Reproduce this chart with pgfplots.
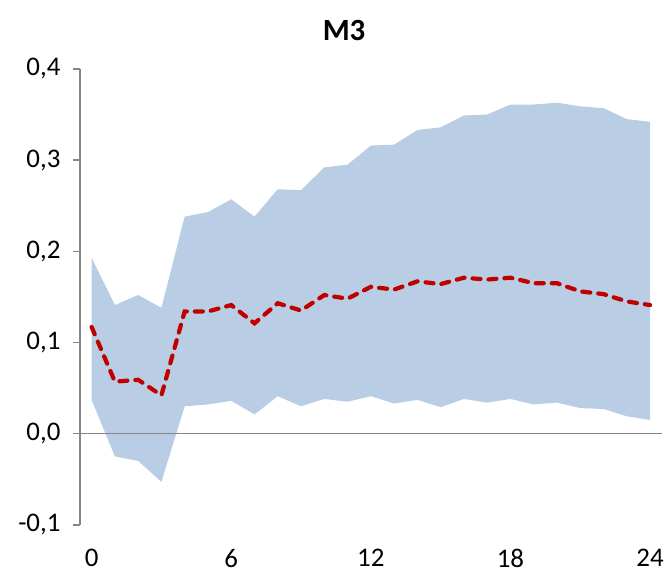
\documentclass[border=0pt]{standalone}
\usepackage{fontspec}
\setmainfont{Carlito}
\usepackage{pgfplots}
\pgfplotsset{compat=1.18}
\usepgfplotslibrary{fillbetween}
\definecolor{band}{HTML}{B9CDE5}
\definecolor{med}{HTML}{C00000}
\definecolor{axg}{HTML}{868686}
\begin{document}
\begin{tikzpicture}
\begin{axis}[
  name=ax,
  scale only axis,
  width=582bp, height=456bp,
  xmin=-0.5, xmax=24.5,
  ymin=-0.1, ymax=0.4,
  xtick={0,6,12,18,24},
  ytick={-0.1,0,0.1,0.2,0.3,0.4},
  axis x line*=bottom, axis y line*=left,
  x axis line style={draw=none},
  y axis line style={draw=axg, line width=1.5bp},
  xtick style={draw=none},
  ytick style={draw=axg, line width=1.5bp},
  tick align=outside,
  major tick length=7bp,
  /pgf/number format/assume math mode=true,
  yticklabel style={/pgf/number format/.cd, use comma, fixed, fixed zerofill, precision=1},
  tick label style={font=\fontsize{27}{30}\selectfont, text=black},
  yticklabel shift=9bp,
  xticklabel shift=14bp,
  clip=false,
]
\addplot[name path=up, draw=none] coordinates {
(0,0.193) (1,0.141) (2,0.152) (3,0.138) (4,0.238) (5,0.243) (6,0.257) (7,0.238) (8,0.268) (9,0.267) (10,0.292) (11,0.295) (12,0.316) (13,0.317) (14,0.333) (15,0.336) (16,0.349) (17,0.350) (18,0.361) (19,0.361) (20,0.363) (21,0.359) (22,0.357) (23,0.345) (24,0.342)};
\addplot[name path=lo, draw=none] coordinates {
(0,0.037) (1,-0.025) (2,-0.030) (3,-0.053) (4,0.030) (5,0.032) (6,0.036) (7,0.021) (8,0.041) (9,0.030) (10,0.038) (11,0.035) (12,0.041) (13,0.033) (14,0.037) (15,0.029) (16,0.038) (17,0.034) (18,0.038) (19,0.032) (20,0.034) (21,0.028) (22,0.027) (23,0.019) (24,0.015)};
\addplot[band, draw=none] fill between[of=up and lo];
\addplot[draw=axg, line width=1.5bp] coordinates {(-0.5,0) (24.5,0)};
\addplot[med, line width=4.2bp, line cap=round, dash pattern=on 8bp off 8bp] coordinates {
(0,0.117) (1,0.057) (2,0.059) (3,0.042) (4,0.134) (5,0.134) (6,0.141) (7,0.121) (8,0.143) (9,0.135) (10,0.152) (11,0.148) (12,0.161) (13,0.158) (14,0.167) (15,0.164) (16,0.171) (17,0.169) (18,0.171) (19,0.165) (20,0.165) (21,0.156) (22,0.153) (23,0.145) (24,0.141)};
\node[font=\bfseries\fontsize{31}{34}\selectfont, anchor=base] at ([yshift=28bp]rel axis cs:0.454,1) {M3};
\end{axis}
\path ([shift={(-80bp,-51bp)}]ax.south west) rectangle ++(667bp,576bp);
\end{tikzpicture}
\end{document}
